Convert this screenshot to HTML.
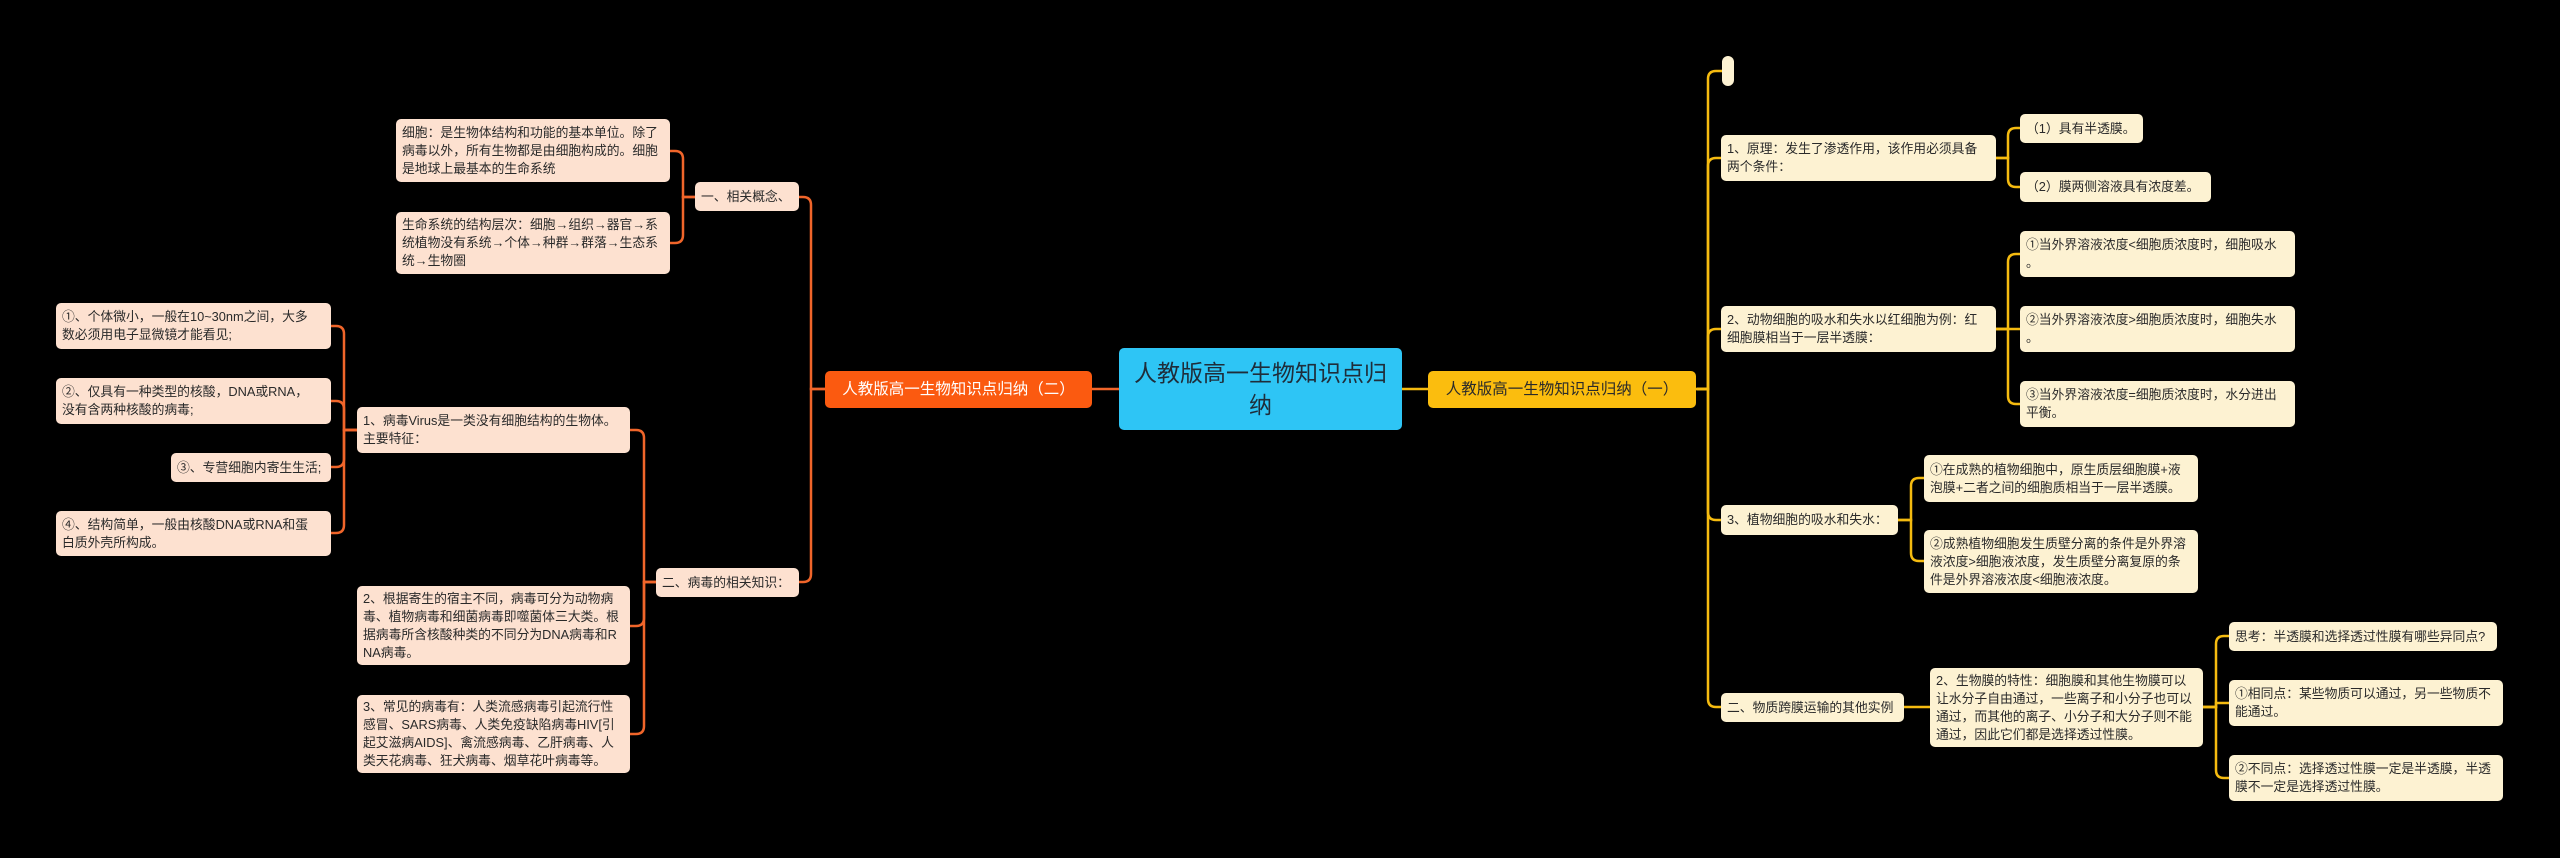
<!DOCTYPE html>
<html><head><meta charset="utf-8">
<style>
html,body{margin:0;padding:0;background:#000;}
body{width:2560px;height:858px;position:relative;overflow:hidden;font-family:"Liberation Sans","Noto Sans CJK SC",sans-serif;}
.n{position:absolute;box-sizing:border-box;border-radius:5px;font-size:12.8px;line-height:18px;color:#2a2a2a;padding:3px 6px;display:flex;align-items:center;white-space:nowrap;overflow:hidden;}
.l{background:#fde1d0;}
.r{background:#fdf2d2;}
svg{position:absolute;left:0;top:0;}
</style></head><body>
<svg width="2560" height="858" fill="none" stroke-width="2.5" stroke-linecap="round">
<g stroke="#f0652a">
<path d="M825 389 H811 V205 Q811 197 803 197 H799"/>
<path d="M825 389 H811 V574 Q811 582 803 582 H799"/>
<path d="M695 197 H683 V159 Q683 151 675 151 H670"/>
<path d="M695 197 H683 V235 Q683 243 675 243 H670"/>
<path d="M656 582 H644 V438 Q644 430 636 430 H630"/>
<path d="M656 582 H644 V618 Q644 626 636 626 H630"/>
<path d="M656 582 H644 V726 Q644 734 636 734 H630"/>
<path d="M357 430 H344 V334 Q344 326 336 326 H331"/>
<path d="M357 430 H344 V409 Q344 401 336 401 H331"/>
<path d="M357 430 H344 V459 Q344 467 336 467 H331"/>
<path d="M357 430 H344 V525 Q344 533 336 533 H331"/>
<path d="M1119 389 H1092"/>
</g>
<g stroke="#f5bb10">
<path d="M1402 389 H1428"/>
<path d="M1697 389 H1708 V79 Q1708 71 1716 71 H1722"/>
<path d="M1697 389 H1708 V166 Q1708 158 1716 158 H1721"/>
<path d="M1697 389 H1708 V337 Q1708 329 1716 329 H1721"/>
<path d="M1697 389 H1708 V512 Q1708 520 1716 520 H1721"/>
<path d="M1697 389 H1708 V699 Q1708 707 1716 707 H1721"/>
<path d="M1996 158 H2008 V136 Q2008 128 2016 128 H2020"/>
<path d="M1996 158 H2008 V179 Q2008 187 2016 187 H2020"/>
<path d="M1996 329 H2008 V262 Q2008 254 2016 254 H2020"/>
<path d="M1996 329 H2020"/>
<path d="M1996 329 H2008 V396 Q2008 404 2016 404 H2020"/>
<path d="M1898 520 H1911 V486 Q1911 478 1919 478 H1924"/>
<path d="M1898 520 H1911 V553 Q1911 561 1919 561 H1924"/>
<path d="M1904 707 H1930"/>
<path d="M2203 707 H2216 V644 Q2216 636 2224 636 H2229"/>
<path d="M2203 707 H2216 V703 H2229"/>
<path d="M2203 707 H2216 V770 Q2216 778 2224 778 H2229"/>
</g>
</svg>

<div class="n" style="left:1119px;top:348px;width:283px;height:82px;background:#2ec5f5;font-size:23px;line-height:32px;color:#1f2d3a;justify-content:center;text-align:center;padding:6px 10px;">人教版高一生物知识点归<br>纳</div>
<div class="n" style="left:825px;top:371px;width:267px;height:37px;background:#fb5a10;color:#fff;font-size:15.5px;justify-content:center;">人教版高一生物知识点归纳（二）</div>
<div class="n" style="left:1428px;top:371px;width:268px;height:37px;background:#fbbd0e;color:#2a2a2a;font-size:15.5px;justify-content:center;">人教版高一生物知识点归纳（一）</div>

<!-- left -->
<div class="n l" style="left:396px;top:119px;width:274px;height:63px;">细胞：是生物体结构和功能的基本单位。除了<br>病毒以外，所有生物都是由细胞构成的。细胞<br>是地球上最基本的生命系统</div>
<div class="n l" style="left:396px;top:212px;width:274px;height:62px;">生命系统的结构层次：细胞→组织→器官→系<br>统植物没有系统→个体→种群→群落→生态系<br>统→生物圈</div>
<div class="n l" style="left:695px;top:182px;width:104px;height:29px;">一、相关概念、</div>
<div class="n l" style="left:656px;top:568px;width:143px;height:29px;">二、病毒的相关知识：</div>
<div class="n l" style="left:357px;top:407px;width:273px;height:46px;">1、病毒Virus是一类没有细胞结构的生物体。<br>主要特征：</div>
<div class="n l" style="left:357px;top:586px;width:273px;height:79px;">2、根据寄生的宿主不同，病毒可分为动物病<br>毒、植物病毒和细菌病毒即噬菌体三大类。根<br>据病毒所含核酸种类的不同分为DNA病毒和R<br>NA病毒。</div>
<div class="n l" style="left:357px;top:695px;width:273px;height:78px;">3、常见的病毒有：人类流感病毒引起流行性<br>感冒、SARS病毒、人类免疫缺陷病毒HIV[引<br>起艾滋病AIDS]、禽流感病毒、乙肝病毒、人<br>类天花病毒、狂犬病毒、烟草花叶病毒等。</div>
<div class="n l" style="left:56px;top:303px;width:275px;height:46px;">①、个体微小，一般在10~30nm之间，大多<br>数必须用电子显微镜才能看见;</div>
<div class="n l" style="left:56px;top:378px;width:275px;height:46px;">②、仅具有一种类型的核酸，DNA或RNA，<br>没有含两种核酸的病毒;</div>
<div class="n l" style="left:171px;top:453px;width:160px;height:29px;">③、专营细胞内寄生生活;</div>
<div class="n l" style="left:56px;top:511px;width:275px;height:45px;">④、结构简单，一般由核酸DNA或RNA和蛋<br>白质外壳所构成。</div>

<!-- right -->
<div class="n r" style="left:1722px;top:56px;width:12px;height:30px;padding:0;border-radius:6px;"></div>
<div class="n r" style="left:1721px;top:135px;width:275px;height:46px;">1、原理：发生了渗透作用，该作用必须具备<br>两个条件：</div>
<div class="n r" style="left:1721px;top:306px;width:275px;height:46px;">2、动物细胞的吸水和失水以红细胞为例：红<br>细胞膜相当于一层半透膜：</div>
<div class="n r" style="left:1721px;top:505px;width:177px;height:30px;">3、植物细胞的吸水和失水：</div>
<div class="n r" style="left:1721px;top:693px;width:183px;height:29px;">二、物质跨膜运输的其他实例</div>
<div class="n r" style="left:2020px;top:114px;width:123px;height:29px;">（1）具有半透膜。</div>
<div class="n r" style="left:2020px;top:172px;width:191px;height:30px;">（2）膜两侧溶液具有浓度差。</div>
<div class="n r" style="left:2020px;top:231px;width:275px;height:46px;">①当外界溶液浓度&lt;细胞质浓度时，细胞吸水<br>。</div>
<div class="n r" style="left:2020px;top:306px;width:275px;height:46px;">②当外界溶液浓度&gt;细胞质浓度时，细胞失水<br>。</div>
<div class="n r" style="left:2020px;top:381px;width:275px;height:46px;">③当外界溶液浓度=细胞质浓度时，水分进出<br>平衡。</div>
<div class="n r" style="left:1924px;top:455px;width:274px;height:47px;">①在成熟的植物细胞中，原生质层细胞膜+液<br>泡膜+二者之间的细胞质相当于一层半透膜。</div>
<div class="n r" style="left:1924px;top:530px;width:274px;height:63px;">②成熟植物细胞发生质壁分离的条件是外界溶<br>液浓度&gt;细胞液浓度，发生质壁分离复原的条<br>件是外界溶液浓度&lt;细胞液浓度。</div>
<div class="n r" style="left:1930px;top:668px;width:273px;height:79px;">2、生物膜的特性：细胞膜和其他生物膜可以<br>让水分子自由通过，一些离子和小分子也可以<br>通过，而其他的离子、小分子和大分子则不能<br>通过，因此它们都是选择透过性膜。</div>
<div class="n r" style="left:2229px;top:622px;width:268px;height:29px;">思考：半透膜和选择透过性膜有哪些异同点?</div>
<div class="n r" style="left:2229px;top:680px;width:274px;height:46px;">①相同点：某些物质可以通过，另一些物质不<br>能通过。</div>
<div class="n r" style="left:2229px;top:755px;width:274px;height:46px;">②不同点：选择透过性膜一定是半透膜，半透<br>膜不一定是选择透过性膜。</div>
</body></html>
